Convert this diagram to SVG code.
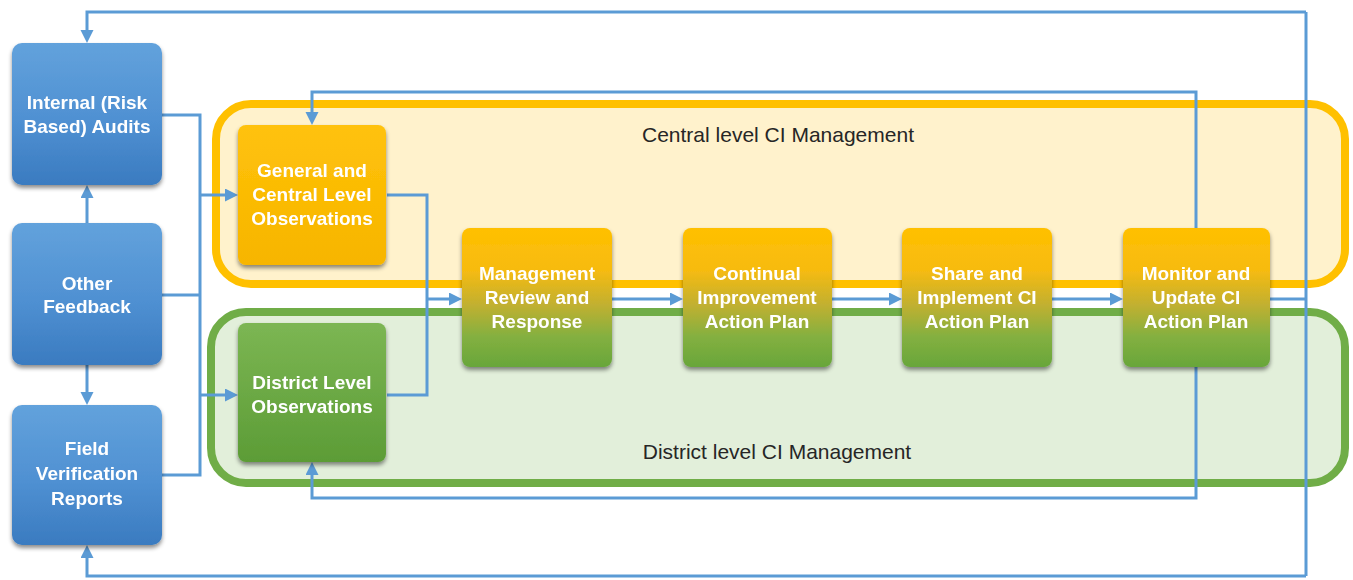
<svg xmlns="http://www.w3.org/2000/svg" width="1353" height="580" viewBox="0 0 1353 580">
<style>
.conn{fill:none;stroke:#5B9BD5;stroke-width:3}
.nt{font-family:"Liberation Sans",Arial,sans-serif;font-weight:bold;font-size:19px;fill:#ffffff;text-anchor:middle}
.ct{font-family:"Liberation Sans",Arial,sans-serif;font-size:21px;fill:#262626;text-anchor:middle}
</style>
<defs>
<linearGradient id="gBlue" x1="0" y1="0" x2="0" y2="1">
<stop offset="0" stop-color="#62A2DC"/><stop offset="0.55" stop-color="#4F90D2"/><stop offset="1" stop-color="#3A7BC0"/>
</linearGradient>
<linearGradient id="gOrange" x1="0" y1="0" x2="0" y2="1">
<stop offset="0" stop-color="#FFC20A"/><stop offset="1" stop-color="#F7B500"/>
</linearGradient>
<linearGradient id="gGreen" x1="0" y1="0" x2="0" y2="1">
<stop offset="0" stop-color="#7CB653"/><stop offset="1" stop-color="#5C9C36"/>
</linearGradient>
<linearGradient id="gProc" x1="0" y1="0" x2="0" y2="1">
<stop offset="0" stop-color="#FFC000"/><stop offset="0.3" stop-color="#F7BB10"/><stop offset="0.55" stop-color="#C2B030"/><stop offset="0.78" stop-color="#84B040"/><stop offset="1" stop-color="#68A63A"/>
</linearGradient>
<filter id="sh" x="-10%" y="-10%" width="120%" height="125%">
<feDropShadow dx="0" dy="3" stdDeviation="2" flood-color="#000" flood-opacity="0.45"/>
</filter>
<marker id="ah" markerWidth="14" markerHeight="14" refX="3" refY="6.5" orient="auto" markerUnits="userSpaceOnUse">
<path d="M0,0 L13,6.5 L0,13 z" fill="#5B9BD5"/>
</marker>
</defs>
<rect width="1353" height="580" fill="#ffffff"/>

<g id="central-container">
<rect x="216" y="104" width="1129" height="180" rx="35" fill="#FFF2CC" stroke="#FFC000" stroke-width="8"/>
<text class="ct" x="778" y="142">Central level CI Management</text>
</g>
<g id="district-container">
<rect x="211" y="312" width="1134" height="171" rx="35" fill="#E2EFDA" stroke="#70AD47" stroke-width="8"/>
<text class="ct" x="777" y="459">District level CI Management</text>
</g>

<g id="connectors">
<path class="conn" d="M162,115 H200 V475 H162"/>
<path class="conn" d="M162,295 H200"/>
<path class="conn" d="M200,195 H228" marker-end="url(#ah)"/>
<path class="conn" d="M200,395 H228" marker-end="url(#ah)"/>
<path class="conn" d="M87,223 V195" marker-end="url(#ah)"/>
<path class="conn" d="M87,365 V395" marker-end="url(#ah)"/>
<path class="conn" d="M387,195 H427 V395 H387"/>
<path class="conn" d="M427,299 H452" marker-end="url(#ah)"/>
<path class="conn" d="M612,299 H673" marker-end="url(#ah)"/>
<path class="conn" d="M832,299 H892" marker-end="url(#ah)"/>
<path class="conn" d="M1052,299 H1113" marker-end="url(#ah)"/>
<path class="conn" d="M1270,299 H1306"/>
<path class="conn" d="M1306,12 V576"/>
<path class="conn" d="M1306,12 H87 V33" marker-end="url(#ah)"/>
<path class="conn" d="M1306,576 H87 V555" marker-end="url(#ah)"/>
<path class="conn" d="M1196,228 V92 H312 V115" marker-end="url(#ah)"/>
<path class="conn" d="M1196,367 V498 H312 V472" marker-end="url(#ah)"/>
</g>

<g id="internal-audits" filter="url(#sh)">
<rect x="12" y="43" width="150" height="142" rx="10" fill="url(#gBlue)"/>
<text class="nt" x="87" y="109">Internal (Risk</text>
<text class="nt" x="87" y="133">Based) Audits</text>
</g>
<g id="other-feedback" filter="url(#sh)">
<rect x="12" y="223" width="150" height="142" rx="10" fill="url(#gBlue)"/>
<text class="nt" x="87" y="290">Other</text>
<text class="nt" x="87" y="313">Feedback</text>
</g>
<g id="field-verification" filter="url(#sh)">
<rect x="12" y="405" width="150" height="140" rx="10" fill="url(#gBlue)"/>
<text class="nt" x="87" y="455">Field</text>
<text class="nt" x="87" y="480">Verification</text>
<text class="nt" x="87" y="505">Reports</text>
</g>
<g id="general-central" filter="url(#sh)">
<rect x="238" y="125" width="148" height="140" rx="8" fill="url(#gOrange)"/>
<text class="nt" x="312" y="177">General and</text>
<text class="nt" x="312" y="201">Central Level</text>
<text class="nt" x="312" y="225">Observations</text>
</g>
<g id="district-obs" filter="url(#sh)">
<rect x="238" y="323" width="148" height="139" rx="8" fill="url(#gGreen)"/>
<text class="nt" x="312" y="389">District Level</text>
<text class="nt" x="312" y="413">Observations</text>
</g>
<g id="management-review" filter="url(#sh)">
<rect x="462" y="228" width="150" height="139" rx="8" fill="url(#gProc)"/>
<text class="nt" x="537" y="280">Management</text>
<text class="nt" x="537" y="304">Review and</text>
<text class="nt" x="537" y="328">Response</text>
</g>
<g id="ci-action-plan" filter="url(#sh)">
<rect x="683" y="228" width="149" height="139" rx="8" fill="url(#gProc)"/>
<text class="nt" x="757" y="280">Continual</text>
<text class="nt" x="757" y="304">Improvement</text>
<text class="nt" x="757" y="328">Action Plan</text>
</g>
<g id="share-implement" filter="url(#sh)">
<rect x="902" y="228" width="150" height="139" rx="8" fill="url(#gProc)"/>
<text class="nt" x="977" y="280">Share and</text>
<text class="nt" x="977" y="304">Implement CI</text>
<text class="nt" x="977" y="328">Action Plan</text>
</g>
<g id="monitor-update" filter="url(#sh)">
<rect x="1123" y="228" width="147" height="139" rx="8" fill="url(#gProc)"/>
<text class="nt" x="1196" y="280">Monitor and</text>
<text class="nt" x="1196" y="304">Update CI</text>
<text class="nt" x="1196" y="328">Action Plan</text>
</g>
</svg>
